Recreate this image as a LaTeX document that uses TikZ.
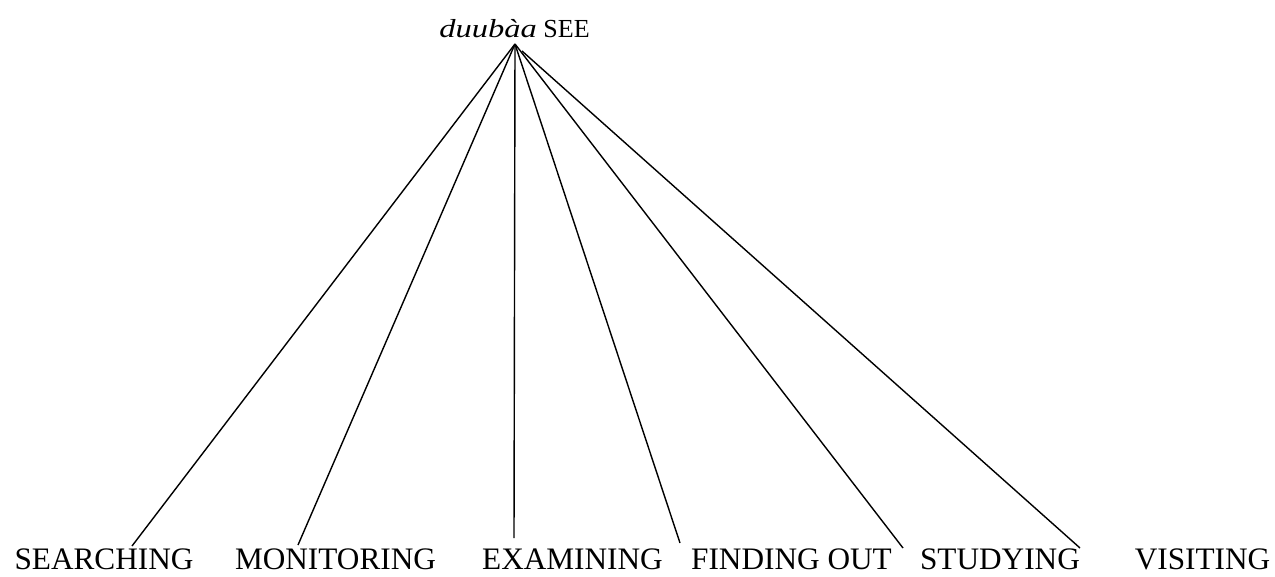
\documentclass[tikz,border=0pt]{standalone}
\usepackage{fontspec}
\setmainfont{Liberation Serif}

\begin{document}
\begin{tikzpicture}[x=0.02cm,y=-0.02cm,
	sense/.style={anchor=base,inner sep=0pt,font=\fontsize{17.8}{20}\selectfont},
	head/.style={anchor=base east,inner sep=0pt,font=\fontsize{14.8}{17}\selectfont},
	branch/.style={line width=0.8pt}]
	\useasboundingbox (0,0) rectangle (1275,576);
	%% ========================================================
	\node[head] (see) at (590,37) {\scalebox{1.25}[1]{\textit{duubàa}} SEE};
	\coordinate (root) at (515,44);
	\coordinate (rootb) at (522,51);
	%% ========================================================
	\node[sense] (searching) at (104,569) {SEARCHING};
	\node[sense] (monitoring) at (335.5,569) {MONITORING};
	\node[sense] (examining) at (572.5,569) {EXAMINING};
	\node[sense] (findingout) at (791.5,569) {FINDING OUT};
	\node[sense] (studying) at (1000,569) {STUDYING};
	\node[sense] (visiting) at (1202.5,569) {VISITING};
	%% ========================================================
	\coordinate (e1) at (132,546);
	\coordinate (e2) at (298,545);
	\coordinate (e3) at (514,538);
	\coordinate (e4) at (680,543);
	\coordinate (e5) at (903,548);
	\coordinate (e6) at (1080,548);

	\foreach \e in {e1,e2,e3,e4,e5}
		\draw[branch] (root) -- (\e);
	\draw[branch] (rootb) -- (e6);
	%% ========================================================
\end{tikzpicture}
\end{document}
